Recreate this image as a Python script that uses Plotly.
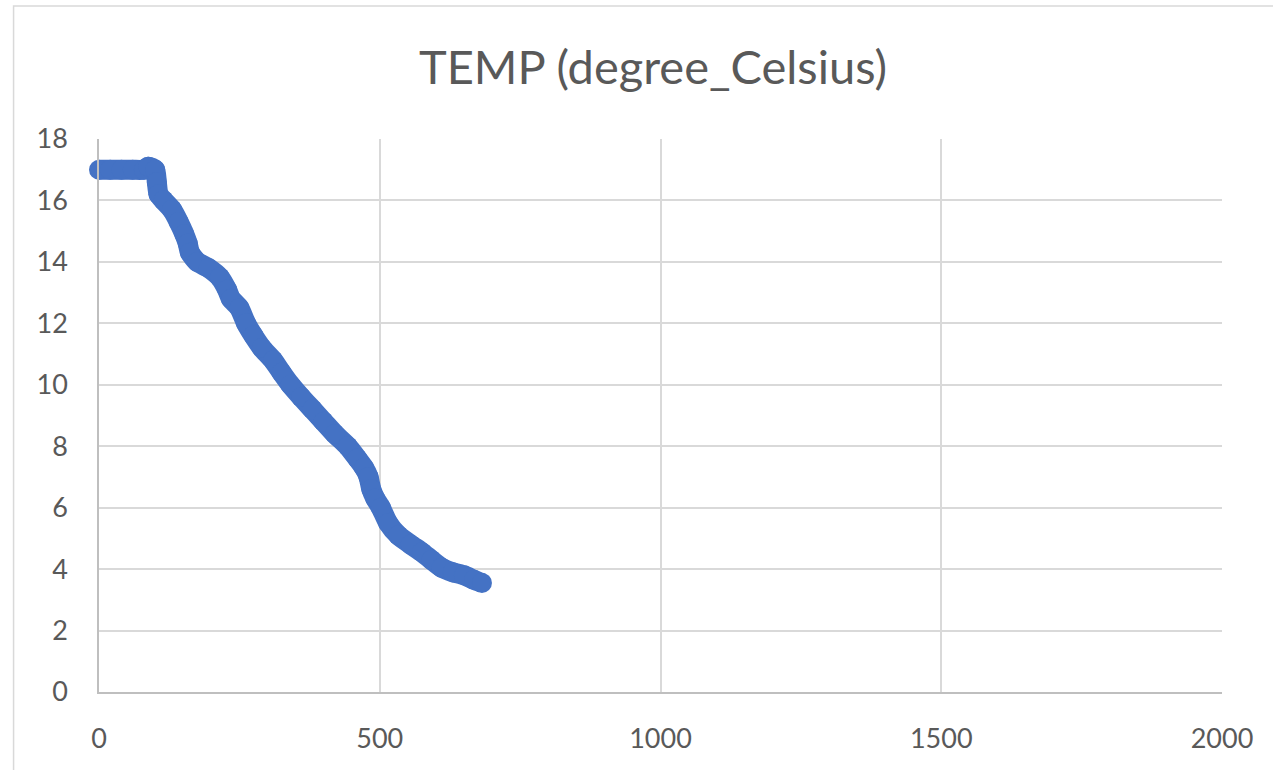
import plotly.graph_objects as go

x_vals = [0, 20, 40, 60, 80, 88, 100, 103, 106, 115, 130, 142, 152, 158, 162, 175,
          195, 215, 228, 235, 250, 262, 275, 290, 310, 325, 341, 360, 380, 400, 420,
          443, 460, 472, 480, 485, 492, 502, 515, 533, 555, 575, 592, 610, 630, 650,
          668, 682]
temp_vals = [17.0, 17.0, 17.0, 17.0, 17.0, 17.1, 17.0, 16.6, 16.2, 16.0, 15.7, 15.3,
             14.9, 14.6, 14.3, 14.0, 13.8, 13.5, 13.1, 12.8, 12.5, 12.0, 11.6, 11.2,
             10.8, 10.4, 10.0, 9.6, 9.2, 8.8, 8.4, 8.0, 7.6, 7.3, 7.0, 6.6, 6.3, 6.0,
             5.5, 5.1, 4.8, 4.55, 4.3, 4.05, 3.9, 3.8, 3.65, 3.55]
x_ticks = [0, 500, 1000, 1500, 2000]
y_ticks = [0, 2, 4, 6, 8, 10, 12, 14, 16, 18]
title_text = "TEMP (degree_Celsius)"

BLUE = "#4472c4"
GRID = "#d9d9d9"
TEXT = "#595959"
FONT = "Lato"

fig = go.Figure()
fig.add_trace(go.Scatter(
    x=x_vals, y=temp_vals, mode="lines+markers",
    line=dict(color=BLUE, width=20, shape="spline", smoothing=0.6),
    marker=dict(color=BLUE, size=20, line=dict(width=0)),
    showlegend=False, hoverinfo="x+y", cliponaxis=False,
))

W, H = 1273, 770
L, R, T, B = 98.5, 1222.5, 139, 692

fig.update_layout(
    width=W, height=H,
    margin=dict(l=L, r=W - R, t=T, b=H - B, autoexpand=False),
    paper_bgcolor="white", plot_bgcolor="white",
    font=dict(family=FONT, color=TEXT, size=27),
    title=dict(text=title_text, x=653 / W, xref="container", xanchor="center",
               y=1 - 68 / H, yref="container", yanchor="middle",
               font=dict(family=FONT, size=47, color=TEXT)),
    xaxis=dict(range=[0, 2000], tickvals=x_ticks, showgrid=True, gridcolor=GRID,
               gridwidth=1.5, zeroline=False, showline=True, linecolor="#bfbfbf",
               linewidth=1.5, ticks="outside", tickcolor="rgba(0,0,0,0)", ticklen=22,
               tickfont=dict(family=FONT, size=27, color=TEXT), mirror=False),
    yaxis=dict(range=[0, 18], tickvals=y_ticks, showgrid=True, gridcolor=GRID,
               gridwidth=1.5, zeroline=False, showline=True, linecolor="#bfbfbf",
               linewidth=1.5, ticks="outside", tickcolor="rgba(0,0,0,0)", ticklen=24,
               tickfont=dict(family=FONT, size=27, color=TEXT)),
    shapes=[dict(type="rect", xref="paper", yref="paper",
                 x0=(13 - L) / (R - L), x1=(1300 - L) / (R - L),
                 y0=(B - 800) / (B - T), y1=(B - 6) / (B - T),
                 line=dict(color=GRID, width=1.5), fillcolor="rgba(0,0,0,0)",
                 layer="below")],
)

fig.write_html("out.html")
